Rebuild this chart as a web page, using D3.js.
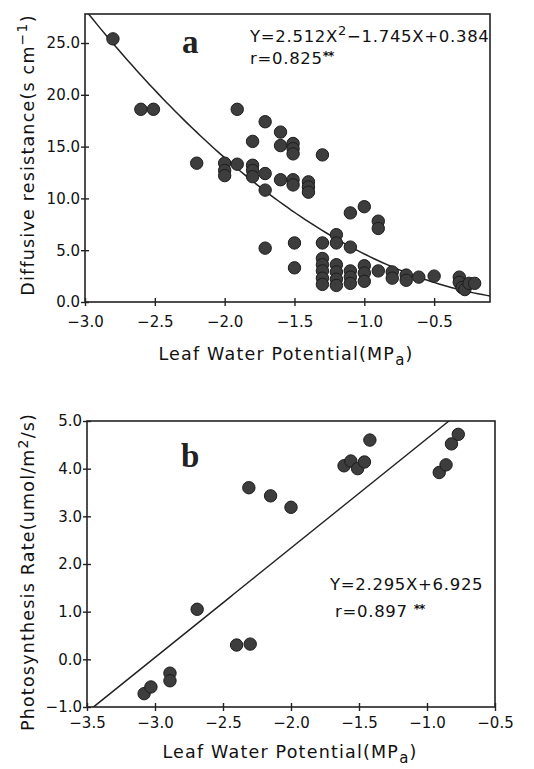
<!DOCTYPE html>
<html>
<head>
<meta charset="utf-8">
<script src="https://cdn.jsdelivr.net/npm/d3@7"></script>
<style>
  body { margin: 0; background: #fff; }
  svg { display: block; }
  .tick text { font-family: "DejaVu Sans", sans-serif; font-size: 15px; fill: #111; }
  .axes-label { font-family: "DejaVu Sans", sans-serif; font-size: 17.5px; fill: #111; letter-spacing: 1.2px; }
  .eq { font-family: "DejaVu Sans", sans-serif; font-size: 16.5px; fill: #111; letter-spacing: 0.7px; }
  .panel-tag { font-family: "Liberation Serif", serif; font-weight: bold; font-size: 33px; fill: #222; }
</style>
</head>
<body>
<div id="chart"></div>
<script>
// panel a: diffusive resistance vs leaf water potential
let resistX = [-2.80, -2.60, -2.51, -2.20, -2.00, -2.00, -2.00, -1.91, -1.91, -1.80,
               -1.80, -1.80, -1.80, -1.71, -1.71, -1.71, -1.60, -1.60, -1.60, -1.51,
               -1.51, -1.51, -1.51, -1.51, -1.40, -1.40, -1.40, -1.30, -1.71, -1.50,
               -1.50, -1.30, -1.30, -1.30, -1.30, -1.30, -1.30, -1.20, -1.20, -1.20,
               -1.20, -1.20, -1.20, -1.10, -1.10, -1.10, -1.10, -1.10, -1.00, -1.00,
               -1.00, -1.00, -0.90, -0.90, -0.90, -0.80, -0.80, -0.70, -0.70, -0.61,
               -0.50, -0.32, -0.32, -0.30, -0.28, -0.25, -0.21],
    resistY = [25.4, 18.6, 18.6, 13.4, 13.4, 12.7, 12.2, 18.6, 13.3, 15.5,
               13.2, 12.7, 12.1, 17.4, 12.4, 10.8, 16.4, 15.1, 11.8, 15.3,
               14.8, 14.3, 11.8, 11.3, 11.6, 11.1, 10.6, 14.2, 5.2, 5.7,
               3.3, 5.7, 4.2, 3.6, 3.0, 2.3, 1.7, 6.5, 5.7, 3.6,
               2.9, 2.2, 1.6, 8.6, 5.3, 3.0, 2.4, 1.8, 9.2, 3.5,
               2.8, 2.0, 7.8, 7.1, 3.0, 2.9, 2.3, 2.6, 2.1, 2.4,
               2.5, 2.4, 1.9, 1.4, 1.2, 1.8, 1.8];

// panel b: photosynthesis rate vs leaf water potential
let photoX = [-3.08, -3.03, -2.89, -2.89, -2.69, -2.40, -2.30, -2.31, -2.15, -2.00,
              -1.61, -1.56, -1.51, -1.46, -1.42, -0.91, -0.86, -0.82, -0.77],
    photoY = [-0.72, -0.58, -0.29, -0.45, 1.05, 0.30, 0.32, 3.60, 3.43, 3.19,
              4.06, 4.16, 4.00, 4.14, 4.60, 3.92, 4.08, 4.52, 4.72];

// tick values
let aXTicks = [-3.0, -2.5, -2.0, -1.5, -1.0, -0.5],
    aYTicks = [0, 5, 10, 15, 20, 25],
    bXTicks = [-3.5, -3.0, -2.5, -2.0, -1.5, -1.0, -0.5],
    bYTicks = [-1, 0, 1, 2, 3, 4, 5];

// fitted equations printed on the chart
let quadFit = [2.512, -1.745, 0.384],
    linFit = [2.295, 6.925];

let svg = d3.select('#chart').append('svg')
    .attr('width', 534)
    .attr('height', 769);

function panel(opts) {
    let x = d3.scaleLinear().domain(opts.xDomain).range(opts.xRange),
        y = d3.scaleLinear().domain(opts.yDomain).range(opts.yRange),
        fmt = d3.format('.1f'),
        g = svg.append('g');

    // clip for the fitted line
    g.append('clipPath').attr('id', opts.id + '-clip')
        .append('rect')
        .attr('x', opts.xRange[0]).attr('y', opts.yRange[1])
        .attr('width', opts.xRange[1] - opts.xRange[0])
        .attr('height', opts.yRange[0] - opts.yRange[1]);

    // x axis
    let xa = g.append('g')
        .attr('transform', `translate(0,${opts.yRange[0]})`)
        .call(d3.axisBottom(x).tickValues(opts.xTicks).tickFormat(fmt).tickSizeOuter(0));
    xa.selectAll('.tick line').attr('y1', -4).attr('y2', 4);
    xa.selectAll('.tick text').attr('dy', null).attr('y', opts.xLabelOff);

    // y axis
    let ya = g.append('g')
        .attr('transform', `translate(${opts.xRange[0]},0)`)
        .call(d3.axisLeft(y).tickValues(opts.yTicks).tickFormat(fmt).tickSizeOuter(0));
    ya.selectAll('.tick line').attr('x1', -4).attr('x2', 4);
    ya.selectAll('.tick text').attr('x', -5);

    g.selectAll('.domain').remove();
    g.selectAll('.tick line').attr('stroke', '#222').attr('stroke-width', 1.4);

    // frame
    g.append('rect')
        .attr('x', opts.xRange[0]).attr('y', opts.yRange[1])
        .attr('width', opts.xRange[1] - opts.xRange[0])
        .attr('height', opts.yRange[0] - opts.yRange[1])
        .attr('fill', 'none').attr('stroke', '#222').attr('stroke-width', 1.6);

    // fitted line
    let xs = d3.range(0, 101).map(i => opts.xDomain[0] - 0.1 + i * (opts.xDomain[1] - opts.xDomain[0] + 0.2) / 100);
    g.append('path')
        .datum(xs)
        .attr('clip-path', `url(#${opts.id}-clip)`)
        .attr('fill', 'none').attr('stroke', '#222').attr('stroke-width', 1.5)
        .attr('d', d3.line().x(d => x(d)).y(d => y(opts.fit(d))));

    // points
    g.selectAll('circle')
        .data(opts.xs.map((d, i) => [d, opts.ys[i]]))
        .enter().append('circle')
        .attr('cx', d => x(d[0]))
        .attr('cy', d => y(d[1]))
        .attr('r', 6.2)
        .attr('fill', '#3d3d3d')
        .attr('stroke', '#1c1c1c')
        .attr('stroke-width', 1);

    // x axis label
    let xl = g.append('text')
        .classed('axes-label', true)
        .attr('text-anchor', 'middle')
        .attr('x', opts.xTitlePos[0]).attr('y', opts.xTitlePos[1]);
    xl.append('tspan').text('Leaf Water Potential(MP');
    xl.append('tspan').attr('dy', 5).attr('font-size', '15px').text('a');
    xl.append('tspan').attr('dy', -5).text(')');

    return g;
}

// panel a
let ga = panel({
    id: 'a', xDomain: [-3, -0.1], yDomain: [0, 27.8],
    xRange: [85, 490], yRange: [302, 14],
    xTicks: aXTicks, yTicks: aYTicks, xLabelOff: 25,
    xs: resistX, ys: resistY,
    fit: v => quadFit[0] * v * v + quadFit[1] * v + quadFit[2],
    xTitlePos: [286, 360]
});

let yla = ga.append('text')
    .classed('axes-label', true)
    .attr('text-anchor', 'middle')
    .attr('transform', 'translate(34,155) rotate(-90)');
yla.append('tspan').text('Diffusive resistance(s cm');
yla.append('tspan').attr('dy', -7).attr('font-size', '14px').text('−1');
yla.append('tspan').attr('dy', 7).text(')');

ga.append('text').classed('panel-tag', true).attr('x', 182).attr('y', 53).text('a');

let eqa = ga.append('text').classed('eq', true).attr('x', 250).attr('y', 42);
eqa.append('tspan').text('Y=2.512X');
eqa.append('tspan').attr('dy', -7).attr('font-size', '13px').text('2');
eqa.append('tspan').attr('dy', 7).text('−1.745X+0.384');
let ra = ga.append('text').classed('eq', true).attr('x', 250).attr('y', 64);
ra.append('tspan').text('r=0.825');
ra.append('tspan').attr('dy', -4).attr('font-size', '12px').attr('font-weight', 'bold').attr('letter-spacing', '-1px').text('**');

// panel b
let gb = panel({
    id: 'b', xDomain: [-3.5, -0.5], yDomain: [-1, 5],
    xRange: [87, 495], yRange: [707, 421],
    xTicks: bXTicks, yTicks: bYTicks, xLabelOff: 21,
    xs: photoX, ys: photoY,
    fit: v => linFit[0] * v + linFit[1],
    xTitlePos: [290, 758]
});

let ylb = gb.append('text')
    .classed('axes-label', true)
    .attr('text-anchor', 'middle')
    .attr('transform', 'translate(34,572) rotate(-90)');
ylb.append('tspan').text('Photosynthesis Rate(umol/m');
ylb.append('tspan').attr('dy', -6).attr('font-size', '14px').text('2');
ylb.append('tspan').attr('dy', 6).text('/s)');

gb.append('text').classed('panel-tag', true).attr('x', 181).attr('y', 467).text('b');

gb.append('text').classed('eq', true).attr('x', 330).attr('y', 590).text('Y=2.295X+6.925');
let rb = gb.append('text').classed('eq', true).attr('x', 335).attr('y', 617);
rb.append('tspan').text('r=0.897 ');
rb.append('tspan').attr('dy', -4).attr('font-size', '12px').attr('font-weight', 'bold').attr('letter-spacing', '-1px').text('**');
</script>
</body>
</html>
